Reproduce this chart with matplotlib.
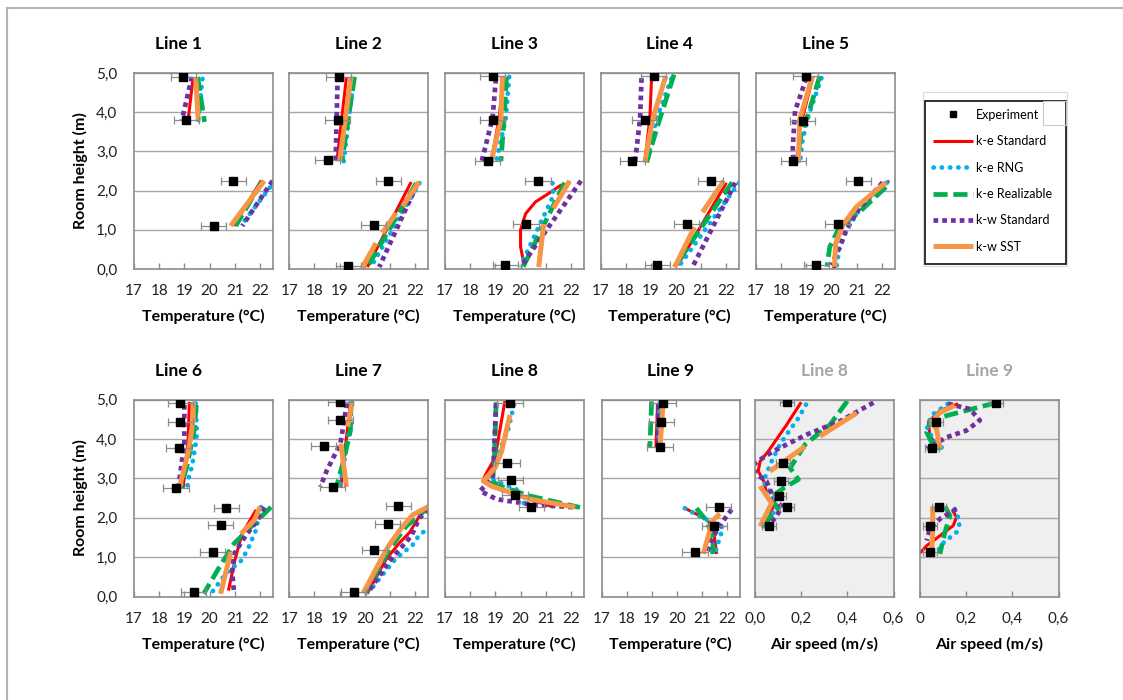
import numpy as np
import matplotlib
matplotlib.use('Agg')
import matplotlib.pyplot as plt
from matplotlib.patches import Rectangle

nan = np.nan
plt.rcParams['font.family'] = ['Lato', 'DejaVu Sans']

# ---- data : (heights [m], values) per series, nan = break in the line ----
# Line 1
l1_exp = ([4.9, 3.8, 2.25, 1.1], [18.95, 19.08, 20.95, 20.17])
l1_kes = ([4.9, 3.8, nan, 2.25, 1.1], [19.35, 19.15, nan, 22.04, 20.97])
l1_rng = ([4.85, 3.8, nan, 2.25, 1.1], [19.72, 19.55, nan, 22.6, 21.24])
l1_rea = ([4.9, 3.75, nan, 2.25, 1.1], [19.53, 19.8, nan, 22.1, 21.04])
l1_kws = ([4.9, 3.8, nan, 2.25, 1.1], [19.3, 18.9, nan, 22.5, 21.3])
l1_sst = ([4.9, 3.8, nan, 2.25, 1.1], [19.45, 19.55, nan, 22.17, 20.84])
# Line 2
l2_exp = ([4.9, 3.8, 2.78, 2.25, 1.12, 0.08], [18.97, 18.92, 18.52, 20.93, 20.35, 19.35])
l2_kes = ([4.9, 2.75, nan, 2.22, 0.05], [19.27, 18.89, nan, 21.84, 20.1])
l2_rng = ([4.85, 2.75, nan, 2.19, 0.05], [19.56, 19.16, nan, 22.17, 20.24])
l2_rea = ([4.9, 2.75, nan, 2.19, 0.05], [19.59, 19.09, nan, 22.04, 20.1])
l2_kws = ([4.9, 2.75, nan, 2.15, 0.05], [18.92, 18.84, nan, 22.07, 20.57])
l2_sst = ([4.9, 2.75, nan, 2.22, 1.6, nan, 1.43, 0.92, nan, 0.66, 0.02],
          [19.45, 19.0, nan, 22.15, 21.5, nan, 21.24, 20.7, nan, 20.44, 19.88])
# Line 3
l3_exp = ([4.92, 3.79, 2.76, 2.25, 1.14, 0.1], [18.89, 18.89, 18.7, 20.69, 20.22, 19.39])
l3_kes = ([4.9, 3.85, 2.72, nan, 2.15, 1.92, 1.71, 1.41, 0.99, 0.57, 0.14],
          [19.31, 19.15, 18.83, nan, 21.63, 21.1, 20.59, 20.2, 20.0, 20.0, 20.13])
l3_rng = ([4.9, 3.82, 2.72, nan, 2.19, 1.87, 0.14], [19.55, 19.41, 19.02, nan, 21.27, 21.3, 20.04])
l3_rea = ([4.9, 3.85, 2.75, nan, 2.2, 0.05], [19.44, 19.35, 19.22, nan, 21.75, 20.1])
l3_kws = ([4.85, 3.85, 2.7, nan, 2.25, 0.05], [19.02, 18.89, 18.44, nan, 22.4, 20.0])
l3_sst = ([4.92, 3.82, 2.72, nan, 2.25, 1.55, nan, 1.15, 0.05],
          [19.28, 19.22, 18.83, nan, 21.95, 21.3, nan, 20.92, 20.72])
# Line 4
l4_exp = ([4.92, 3.79, 2.76, 2.25, 1.14, 0.1], [19.12, 18.76, 18.27, 21.38, 20.42, 19.25])
l4_kes = ([4.9, 3.85, 2.72, nan, 2.2, 0.1], [19.03, 18.96, 18.76, nan, 22.0, 20.07])
l4_rng = ([4.85, 3.82, 2.72, nan, 2.2, 0.1], [19.81, 19.22, 18.85, nan, 22.5, 20.15])
l4_rea = ([4.96, 3.82, 2.72, nan, 2.21, 0.06], [19.92, 19.35, 18.83, nan, 22.23, 19.94])
l4_kws = ([4.87, 3.82, 2.72, nan, 2.2, 0.06], [18.63, 18.57, 18.37, nan, 22.35, 20.66])
l4_sst = ([4.92, 3.82, 2.72, nan, 2.25, 1.45, nan, 1.07, 0.04],
          [19.59, 19.07, 18.76, nan, 21.9, 21.05, nan, 20.73, 19.94])
# Line 5
l5_exp = ([4.92, 3.78, 2.76, 2.25, 1.14, 0.1], [18.98, 18.85, 18.48, 21.07, 20.25, 19.4])
l5_kes = ([4.92, 3.94, 3.52, 2.72, nan, 2.25, 1.58, 1.16, 0.65, 0.02],
          [19.27, 18.88, 18.72, 18.72, nan, 22.29, 20.98, 20.45, 20.19, 20.12])
l5_rng = ([4.87, 3.94, 3.3, 2.72, nan, 2.2, 1.5, 1.0, 0.5, 0.05],
          [19.6, 19.1, 18.85, 18.75, nan, 22.2, 21.1, 20.6, 20.3, 20.2])
l5_rea = ([4.92, 3.94, 3.52, 2.72, nan, 2.09, 1.45, 1.07, 0.57, 0.06],
          [19.53, 19.07, 18.81, 18.62, nan, 22.16, 21.1, 20.32, 19.93, 19.82])
l5_kws = ([4.87, 4.03, 3.1, 2.72, nan, 2.21, 1.5, 0.99, 0.55, 0.1],
          [19.0, 18.55, 18.46, 18.48, nan, 22.03, 21.05, 20.58, 20.32, 19.99])
l5_sst = ([4.92, 3.82, 2.72, nan, 2.21, 1.58, 1.12, 0.65, 0.06],
          [19.24, 18.74, 18.68, nan, 22.16, 20.98, 20.45, 20.16, 20.12])
# Line 6
l6_exp = ([4.9, 4.43, 3.77, 2.75, 2.25, 1.81, 1.13, 0.11],
          [18.84, 18.84, 18.77, 18.67, 20.67, 20.44, 20.13, 19.37])
l6_kes = ([4.94, 3.97, 2.75, nan, 2.2, 1.6, 1.2, 0.9, 0.15],
          [19.2, 19.15, 18.95, nan, 21.85, 21.3, 21.12, 21.0, 20.75])
l6_rng = ([4.9, 4.14, 3.84, 3.33, 3.0, 2.74, nan, 2.27, 1.68, 1.17, 0.9, 0.58, 0.11],
          [19.45, 19.5, 19.44, 19.31, 19.17, 19.1, nan, 22.04, 21.84, 21.5, 21.24, 20.64, 20.1])
l6_rea = ([4.86, 4.14, 3.3, 2.75, nan, 2.27, 1.34, 0.66, 0.07],
          [19.48, 19.37, 19.1, 18.85, nan, 22.44, 20.97, 20.31, 19.77])
l6_kws = ([4.86, 3.92, 2.78, nan, 2.27, 1.94, 1.55, 1.08, 0.62, 0.11],
          [19.0, 19.0, 18.77, nan, 22.17, 21.91, 21.44, 20.97, 20.9, 20.97])
l6_sst = ([4.94, 4.47, 3.71, 2.78, nan, 2.27, 1.94, 1.59, nan, 1.13, 0.07],
          [19.35, 19.35, 19.17, 18.81, nan, 22.0, 21.78, 21.24, nan, 20.84, 20.44])
# Line 7
l7_exp = ([4.94, 4.49, 3.81, 2.78, 2.29, 1.84, 1.17, 0.12],
          [19.03, 19.03, 18.36, 18.73, 21.33, 20.91, 20.37, 19.55])
l7_kes = ([4.94, 4.14, 3.4, 2.78, nan, 2.29, 2.04, 1.62, 1.36, 0.94, 0.08],
          [19.43, 19.29, 19.15, 19.05, nan, 22.6, 22.17, 21.77, 21.37, 20.84, 20.1])
l7_rng = ([4.94, 4.3, 3.5, 2.78, nan, 2.25, 1.74, 1.57, 1.31, 0.97, 0.55, 0.12],
          [19.45, 19.4, 19.2, 19.0, nan, 23.2, 22.57, 22.17, 21.9, 21.24, 20.7, 20.17])
l7_rea = ([4.94, 4.22, 3.46, 2.78, nan, 2.29, 1.78, 1.19, 0.1],
          [19.45, 19.43, 19.16, 18.87, nan, 22.57, 21.64, 20.97, 20.04])
l7_kws = ([4.9, 3.88, 3.2, 2.78, nan, 2.2, 2.0, 1.53, 0.9, 0.08],
          [19.29, 19.03, 18.49, 18.23, nan, 22.57, 22.17, 21.84, 20.97, 20.1])
l7_sst = ([4.94, 4.31, nan, 3.88, 2.78, nan, 2.29, 2.07, 1.78, 1.31, 1.01, 0.08],
          [19.5, 19.32, nan, 19.05, 19.27, nan, 22.55, 21.9, 21.5, 20.97, 20.7, 19.93])
# Line 8 (temperature)
l8_exp = ([4.92, 3.39, 2.95, 2.57, 2.28], [19.58, 19.48, 19.61, 19.78, 20.42])
l8_kes = ([4.96, 3.53, 3.02, 2.85, 2.55, 2.27], [19.38, 18.99, 18.55, 18.79, 19.98, 21.3])
l8_rng = ([4.87, 4.26, 3.43, 3.0, 2.68, 2.26], [19.74, 19.52, 18.99, 18.75, 19.98, 20.18])
l8_rea = ([4.93, 3.27, 2.93, 2.8, 2.55, 2.26], [19.03, 18.95, 18.85, 19.19, 20.38, 22.36])
l8_kws = ([4.9, 3.0, 2.68, 2.47, 2.34, 2.26], [19.03, 18.9, 18.39, 19.05, 20.38, 22.23])
l8_sst = ([4.61, 3.69, 3.27, 2.93, 2.8, 2.47, 2.27], [19.58, 19.25, 18.99, 18.52, 18.85, 20.38, 22.17])
# Line 9 (temperature)
l9_exp = ([4.91, 4.44, 3.79, 2.26, 1.79, 1.12], [19.45, 19.38, 19.32, 21.65, 21.48, 20.71])
l9_kes = ([4.9, 3.77, nan, 2.26, 1.96, 1.75, 1.08], [19.23, 19.16, nan, 20.25, 21.17, 21.44, 21.57])
l9_rng = ([4.9, 3.77, nan, 2.24, 2.0, 1.75, 1.5, 1.08], [19.3, 19.25, nan, 20.31, 21.0, 21.83, 21.7, 21.5])
l9_rea = ([4.95, 3.77, nan, 2.24, 1.92, 1.5, 1.08], [18.99, 18.92, nan, 20.77, 21.17, 21.44, 21.41])
l9_kws = ([4.87, 3.77, nan, 2.21, 1.92, 1.67, 1.41, 1.08], [19.25, 19.25, nan, 22.17, 21.83, 21.57, 21.37, 21.17])
l9_sst = ([4.95, 3.77, nan, 2.1, 1.92, 1.08], [19.45, 19.32, nan, 21.7, 21.41, 21.04])
# Line 8 (air speed)
s8_exp = ([4.93, 3.39, 2.94, 2.56, 2.27, 1.8], [0.14, 0.123, 0.111, 0.106, 0.137, 0.062])
s8_kes = ([4.93, 4.36, 3.69, 3.43, 3.18, 2.92, 2.58, 2.33, 1.91, 1.78],
          [0.2, 0.137, 0.058, 0.022, 0.014, 0.039, 0.051, 0.08, 0.058, 0.043])
s8_rng = ([4.87, 4.53, 4.11, 3.86, 3.43, 2.92, 2.6, 2.25, 1.78],
          [0.221, 0.188, 0.137, 0.108, 0.072, 0.036, 0.07, 0.094, 0.036])
s8_rea = ([4.96, 4.36, 3.86, 3.26, 2.97, 2.75, 2.5, 2.25, 1.74],
          [0.4, 0.325, 0.217, 0.152, 0.188, 0.123, 0.065, 0.1, 0.022])
s8_kws = ([4.92, 4.45, 4.11, 3.69, 3.39, 3.14, 2.92, 2.5, 2.29, 2.0, 1.78],
          [0.513, 0.369, 0.224, 0.08, 0.0, 0.0, 0.05, 0.08, 0.116, 0.09, 0.05])
s8_sst = ([4.66, 4.07, nan, 3.81, 3.18, nan, 2.8, 2.37, 1.78],
          [0.441, 0.282, nan, 0.217, 0.065, nan, 0.022, 0.072, 0.022])
# Line 9 (air speed)
s9_exp = ([4.91, 4.44, 3.77, 2.26, 1.8, 1.14], [0.331, 0.069, 0.053, 0.083, 0.043, 0.043])
s9_kes = ([4.89, 4.72, 4.42, 4.08, 3.83, 3.75, nan, 2.2, 2.01, 1.8, 1.54, 1.29, 1.1],
          [0.165, 0.086, 0.036, 0.043, 0.072, 0.094, nan, 0.14, 0.158, 0.144, 0.086, 0.029, 0.0])
s9_rng = ([4.89, 4.6, 4.3, 3.95, 3.75, nan, 2.22, 1.88, 1.63, 1.29, 1.14],
          [0.12, 0.05, 0.03, 0.06, 0.1, nan, 0.151, 0.173, 0.158, 0.086, 0.08])
s9_rea = ([4.92, 4.72, 4.59, 4.42, 4.17, 3.92, 3.75, nan, 2.29, 2.05, 1.63, 1.08],
          [0.331, 0.2, 0.115, 0.043, 0.029, 0.05, 0.086, nan, 0.108, 0.13, 0.108, 0.086])
s9_kws = ([4.89, 4.76, 4.47, 4.21, 4.04, 3.75, nan, 2.22, 1.97, 1.71, 1.42],
          [0.122, 0.216, 0.259, 0.2, 0.115, 0.029, nan, 0.158, 0.086, 0.043, 0.029])
s9_sst = ([4.85, 4.67, 4.42, 4.25, 3.75, nan, 2.29, 1.63, 1.08],
          [0.151, 0.086, 0.05, 0.072, 0.086, nan, 0.055, 0.055, 0.05])

temp_err = 0.5
speed_err = 0.03

series_keys = ['kes', 'rng', 'rea', 'kws', 'sst']
series_labels = ['k-e Standard', 'k-e RNG', 'k-e Realizable', 'k-w Standard', 'k-w SST']
temp_ticks = [17, 18, 19, 20, 21, 22]
temp_ticklabels = ['17', '18', '19', '20', '21', '22']
speed_ticks = [0, 0.2, 0.4, 0.6]
height_ticklabels = ['0,0', '1,0', '2,0', '3,0', '4,0', '5,0']

STY = {
    'kes': dict(color='#ff0000', lw=2.2, ls='-'),
    'rng': dict(color='#00b0f0', lw=3.4, ls=(0, (0.05, 1.7)), dash_capstyle='round'),
    'rea': dict(color='#00b050', lw=3.4, ls=(0, (3, 1.2))),
    'kws': dict(color='#7030a0', lw=3.4, ls=(0, (1, 0.85))),
    'sst': dict(color='#f79646', lw=3.6, ls='-'),
}

W, H = 1123, 700
fig = plt.figure(figsize=(W / 100, H / 100), dpi=100)


def px(left, top, w, h):
    return [left / W, 1 - (top + h) / H, w / W, h / H]


# outer border (only top and left edges fall inside the picture)
fig.add_artist(Rectangle((6.5 / W, -0.5), 2.0, 1 - 8 / H + 0.5, transform=fig.transFigure,
                         fill=False, ec='#b4b4b4', lw=1.5))

panels = [
    # title, data, rect, kind, first column
    ('Line 1', [l1_exp, l1_kes, l1_rng, l1_rea, l1_kws, l1_sst], px(134, 73, 138.5, 196), 'T', True),
    ('Line 2', [l2_exp, l2_kes, l2_rng, l2_rea, l2_kws, l2_sst], px(289.3, 73, 138.5, 196), 'T', False),
    ('Line 3', [l3_exp, l3_kes, l3_rng, l3_rea, l3_kws, l3_sst], px(445, 73, 138.5, 196), 'T', False),
    ('Line 4', [l4_exp, l4_kes, l4_rng, l4_rea, l4_kws, l4_sst], px(600.5, 73, 138.5, 196), 'T', False),
    ('Line 5', [l5_exp, l5_kes, l5_rng, l5_rea, l5_kws, l5_sst], px(756, 73, 138.5, 196), 'T', False),
    ('Line 6', [l6_exp, l6_kes, l6_rng, l6_rea, l6_kws, l6_sst], px(134, 399.5, 138.5, 197), 'T', True),
    ('Line 7', [l7_exp, l7_kes, l7_rng, l7_rea, l7_kws, l7_sst], px(289.3, 399.5, 138.5, 197), 'T', False),
    ('Line 8', [l8_exp, l8_kes, l8_rng, l8_rea, l8_kws, l8_sst], px(445, 399.5, 138.5, 197), 'T', False),
    ('Line 9', [l9_exp, l9_kes, l9_rng, l9_rea, l9_kws, l9_sst], px(601.5, 399.5, 138.5, 197), 'T', False),
    ('Line 8', [s8_exp, s8_kes, s8_rng, s8_rea, s8_kws, s8_sst], px(755, 399.5, 138.5, 197), 'V0', False),
    ('Line 9', [s9_exp, s9_kes, s9_rng, s9_rea, s9_kws, s9_sst], px(920, 399.5, 138.5, 197), 'V', False),
]

handles = {}
for title, data, rect, kind, first in panels:
    ax = fig.add_axes(rect)
    exp = data[0]
    for key, (h, v) in zip(series_keys, data[1:]):
        ln, = ax.plot(v, h, solid_capstyle='butt', **STY[key])
        handles[key] = ln
    eb = ax.errorbar(exp[1], exp[0], xerr=temp_err if kind == 'T' else speed_err,
                     fmt='s', color='black', ms=6, ecolor='#8c8c8c', elinewidth=0.9,
                     capsize=3, capthick=0.9, zorder=10)
    handles['exp'] = eb.lines[0]

    ax.set_ylim(0, 5)
    ax.set_yticks([0, 1, 2, 3, 4, 5])
    if first:
        ax.set_yticklabels(height_ticklabels)
        ax.set_ylabel('Room height (m)', fontsize=11.5, fontweight='bold', labelpad=6)
    else:
        ax.set_yticklabels([])
    ax.tick_params(axis='y', length=0, pad=12, labelsize=11, labelcolor='#202020')

    if kind == 'T':
        ax.set_xlim(17, 22.5)
        ax.set_xticks(temp_ticks)
        ax.set_xticklabels(temp_ticklabels)
        ax.set_xlabel('Temperature (°C)', fontsize=11.5, fontweight='bold', labelpad=8)
        tcolor = 'black'
    else:
        ax.set_xlim(0, 0.6)
        ax.set_xticks(speed_ticks)
        ax.set_xticklabels(['0,0' if kind == 'V0' else '0', '0,2', '0,4', '0,6'])
        ax.set_xlabel('Air speed (m/s)', fontsize=11.5, fontweight='bold', labelpad=8)
        ax.set_facecolor('#efefef')
        tcolor = '#a6a6a6'
    ax.tick_params(axis='x', direction='in', length=4, width=1, color='#8c8c8c',
                   pad=11, labelsize=11, labelcolor='#202020')
    ax.grid(axis='y', color='#a6a6a6', lw=1)
    ax.set_axisbelow(True)
    for s in ax.spines.values():
        s.set_color('#8c8c8c')
        s.set_linewidth(1.2)
    ax.set_title(title, fontsize=12.5, fontweight='bold', color=tcolor, pad=17,
                 x=0.32 if first else 0.5)

# legend
fig.add_artist(Rectangle((923 / W, 1 - 266 / H), 144 / W, 174 / H, transform=fig.transFigure,
                         fill=False, ec='#dcdcdc', lw=0.8))
fig.add_artist(Rectangle((925 / W, 1 - 264 / H), 141 / W, 163.3 / H, transform=fig.transFigure,
                         fill=True, fc='white', ec='#202020', lw=1.3))
fig.add_artist(Rectangle((1043 / W, 1 - 125 / H), 23 / W, 24.3 / H, transform=fig.transFigure,
                         fill=False, ec='#c8c8c8', lw=0.8))
leg = fig.legend([handles['exp']] + [handles[k] for k in series_keys],
                 ['Experiment'] + series_labels,
                 loc='upper left', bbox_to_anchor=(925 / W, 1 - 100.7 / H), borderaxespad=0,
                 frameon=False, fontsize=9, handlelength=3.2, labelspacing=1.15,
                 handletextpad=0.25, borderpad=0.65, numpoints=1)
for lh in leg.legend_handles:
    if lh.get_marker() == 's':
        lh.set_markersize(5)

fig.savefig('out.png', dpi=100)
